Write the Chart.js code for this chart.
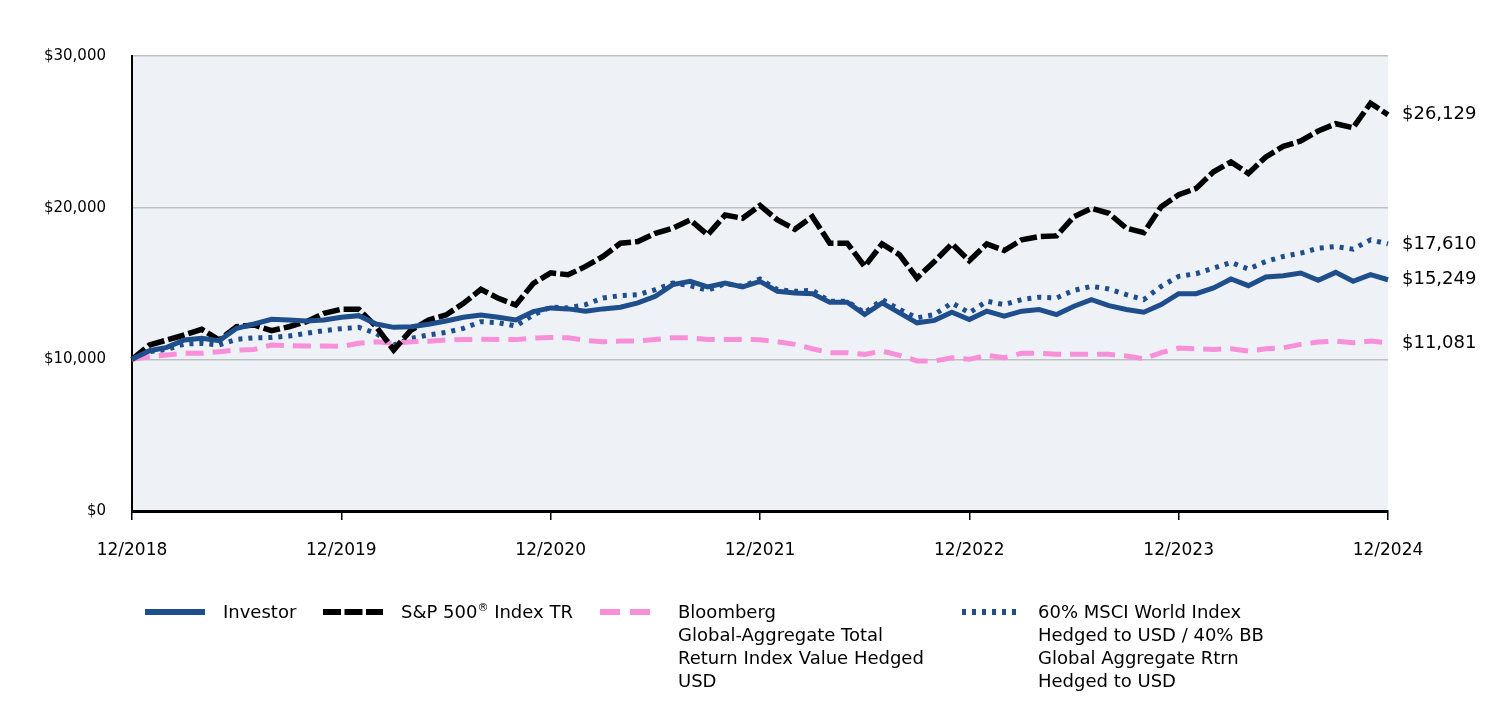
<!DOCTYPE html>
<html>
<head>
<meta charset="utf-8">
<script src="https://cdn.jsdelivr.net/npm/chart.js@4.4.1/dist/chart.umd.min.js"></script>
<style>
  body { margin: 0; background: #fff; }
  #wrap { position: relative; width: 1512px; height: 708px; }
  #graph { position: absolute; left: 0; top: 0; }
  .leg { position: absolute; top: 600px; font-family: "DejaVu Sans", sans-serif; font-size: 18px; line-height: 23px; color: #000; white-space: nowrap; }
  .sw { position: absolute; top: 606px; }
  sup { font-size: 11px; line-height: 0; vertical-align: 7px; }
</style>
</head>
<body>
<div id="wrap">
  <canvas id="graph" width="1512" height="708"></canvas>

  <svg class="sw" style="left:145px" width="60" height="12"><line x1="0" y1="6" x2="60" y2="6" stroke="#1f4e8c" stroke-width="6"/></svg>
  <div class="leg" style="left:223px">Investor</div>

  <svg class="sw" style="left:323px" width="60" height="12"><line x1="0" y1="6" x2="60" y2="6" stroke="#000" stroke-width="6" stroke-dasharray="18 3.5"/></svg>
  <div class="leg" style="left:401px">S&amp;P 500<sup>®</sup> Index TR</div>

  <svg class="sw" style="left:600px" width="60" height="12"><line x1="0" y1="6" x2="60" y2="6" stroke="#f78fd9" stroke-width="6" stroke-dasharray="20 10"/></svg>
  <div class="leg" style="left:678px">Bloomberg<br>Global-Aggregate Total<br>Return Index Value Hedged<br>USD</div>

  <svg class="sw" style="left:960px" width="60" height="12"><line x1="2" y1="6" x2="60" y2="6" stroke="#1f4e8c" stroke-width="6" stroke-dasharray="4 6"/></svg>
  <div class="leg" style="left:1038px">60% MSCI World Index<br>Hedged to USD / 40% BB<br>Global Aggregate Rtrn<br>Hedged to USD</div>
</div>
<script>
// Monthly labels 12/2018 .. 12/2024
const months = [];
for (let i = 0; i <= 72; i++) {
    const m = ((11 + i) % 12) + 1;
    const y = 2018 + Math.floor((11 + i) / 12);
    months.push(String(m).padStart(2, '0') + '/' + y);
}

const investor = [
    10000, 10571, 10791, 11275, 11385, 11231, 12044, 12330, 12637, 12593, 12527, 12593,
    12769, 12879, 12330, 12110, 12150, 12308, 12527, 12769, 12923, 12769, 12593, 13143,
    13391, 13326, 13173, 13326, 13435, 13720, 14157, 14923, 15142, 14770, 15032, 14770,
    15142, 14485, 14376, 14332, 13763, 13763, 12954, 13720, 13063, 12407, 12570, 13107,
    12626, 13173, 12844, 13173, 13282, 12954, 13500, 13938, 13545, 13282, 13107, 13610,
    14332, 14332, 14704, 15295, 14857, 15426, 15514, 15689, 15207, 15733, 15142, 15580,
    15249
];

const sp500 = [
    10000, 10945, 11275, 11604, 11978, 11275, 12150, 12264, 11890, 12150, 12483, 13033,
    13300, 13300, 12150, 10615, 11934, 12593, 12923, 13692, 14615, 14022, 13582, 15000,
    15700, 15580, 16126, 16783, 17658, 17767, 18314, 18643, 19190, 18205, 19518, 19299,
    20150, 19190, 18577, 19408, 17658, 17658, 16126, 17614, 16892, 15360, 16450, 17614,
    16500, 17614, 17177, 17877, 18096, 18139, 19408, 19955, 19627, 18643, 18358, 20065,
    20850, 21268, 22362, 23019, 22253, 23347, 24047, 24397, 25053, 25535, 25272, 26891,
    26129
];

const bloomberg = [
    10000, 10176, 10286, 10396, 10396, 10505, 10615, 10650, 10945, 10900, 10880, 10880,
    10850, 11055, 11165, 11055, 11165, 11200, 11275, 11300, 11320, 11300, 11300, 11400,
    11440, 11422, 11247, 11160, 11203, 11203, 11313, 11422, 11422, 11313, 11313, 11313,
    11290, 11160, 10985, 10700, 10437, 10437, 10328, 10547, 10263, 9890, 9890, 10109,
    10000, 10263, 10109, 10394, 10394, 10328, 10328, 10328, 10328, 10219, 10044, 10437,
    10740, 10700, 10656, 10700, 10547, 10700, 10766, 10985, 11138, 11203, 11094, 11203,
    11081
];

const msci = [
    10000, 10505, 10650, 11011, 11055, 10945, 11319, 11420, 11440, 11538, 11714, 11890,
    12022, 12110, 11714, 10945, 11385, 11604, 11780, 12044, 12483, 12417, 12198, 12923,
    13450, 13391, 13610, 14048, 14200, 14267, 14595, 15032, 14857, 14551, 14990, 14814,
    15295, 14595, 14485, 14551, 13829, 13829, 13063, 13938, 13282, 12735, 12954, 13720,
    13063, 13829, 13610, 13938, 14092, 14048, 14551, 14814, 14639, 14267, 13938, 14814,
    15470, 15645, 16017, 16389, 15951, 16455, 16783, 17002, 17330, 17439, 17264, 17877,
    17610
];

const yTicks = [0, 10000, 20000, 30000];

const fmt = (v) => '$' + v.toLocaleString('en-US');

// Plot background
const plotBg = {
    id: 'plotBg',
    beforeDraw(chart) {
        const { ctx, chartArea: a } = chart;
        ctx.save();
        ctx.fillStyle = '#eef2f7';
        ctx.fillRect(a.left, a.top, a.right - a.left, a.bottom - a.top);
        ctx.restore();
    }
};

// End value labels
const endLabels = {
    id: 'endLabels',
    afterDatasetsDraw(chart) {
        const { ctx, chartArea: a } = chart;
        ctx.save();
        ctx.font = '18px "DejaVu Sans"';
        ctx.fillStyle = '#000';
        ctx.textBaseline = 'middle';
        chart.data.datasets.forEach((ds, i) => {
            const meta = chart.getDatasetMeta(i);
            const pt = meta.data[meta.data.length - 1];
            ctx.fillText(fmt(ds.data[ds.data.length - 1]), a.right + 14, pt.y);
        });
        ctx.restore();
    }
};

const ctx = document.getElementById('graph').getContext('2d');
Chart.defaults.color = '#000';
Chart.defaults.font.family = '"DejaVu Sans", sans-serif';

new Chart(ctx, {
    type: 'line',
    data: {
        labels: months,
        datasets: [
            { label: 'Investor', data: investor, borderColor: '#1f4e8c', borderWidth: 5 },
            { label: 'S&P 500 Index TR', data: sp500, borderColor: '#000', borderWidth: 5.5, borderDash: [17, 4] },
            { label: 'Bloomberg', data: bloomberg, borderColor: '#f78fd9', borderWidth: 5, borderDash: [18, 9] },
            { label: 'MSCI', data: msci, borderColor: '#1f4e8c', borderWidth: 5, borderDash: [4, 6] },
        ],
    },
    options: {
        responsive: false,
        animation: false,
        events: [],
        elements: { point: { radius: 0 }, line: { tension: 0, fill: false } },
        layout: { padding: { left: 0, right: 124, top: 56, bottom: 117 } },
        plugins: { legend: { display: false }, tooltip: { enabled: false } },
        scales: {
            x: {
                offset: false,
                afterFit(scale) { scale.height = 80; },
                grid: { display: true, drawOnChartArea: false, drawTicks: true, tickLength: 9, color: '#000', lineWidth: 1.5 },
                border: { display: true, color: '#000', width: 3 },
                ticks: {
                    autoSkip: false,
                    maxRotation: 0,
                    padding: 20,
                    font: { size: 17 },
                    callback(v, i) { return i % 12 === 0 ? months[i] : null; },
                },
            },
            y: {
                min: 0,
                max: 30000,
                afterFit(scale) { scale.width = 132; },
                afterBuildTicks(scale) { scale.ticks = yTicks.map((v) => ({ value: v })); },
                grid: { color: '#bfbfbf', lineWidth: 1.5, drawTicks: false },
                border: { display: true, color: '#000', width: 2 },
                ticks: { padding: 26, font: { size: 15 }, callback: (v) => fmt(v) },
            },
        },
    },
    plugins: [plotBg, endLabels],
});
</script>
</body>
</html>
